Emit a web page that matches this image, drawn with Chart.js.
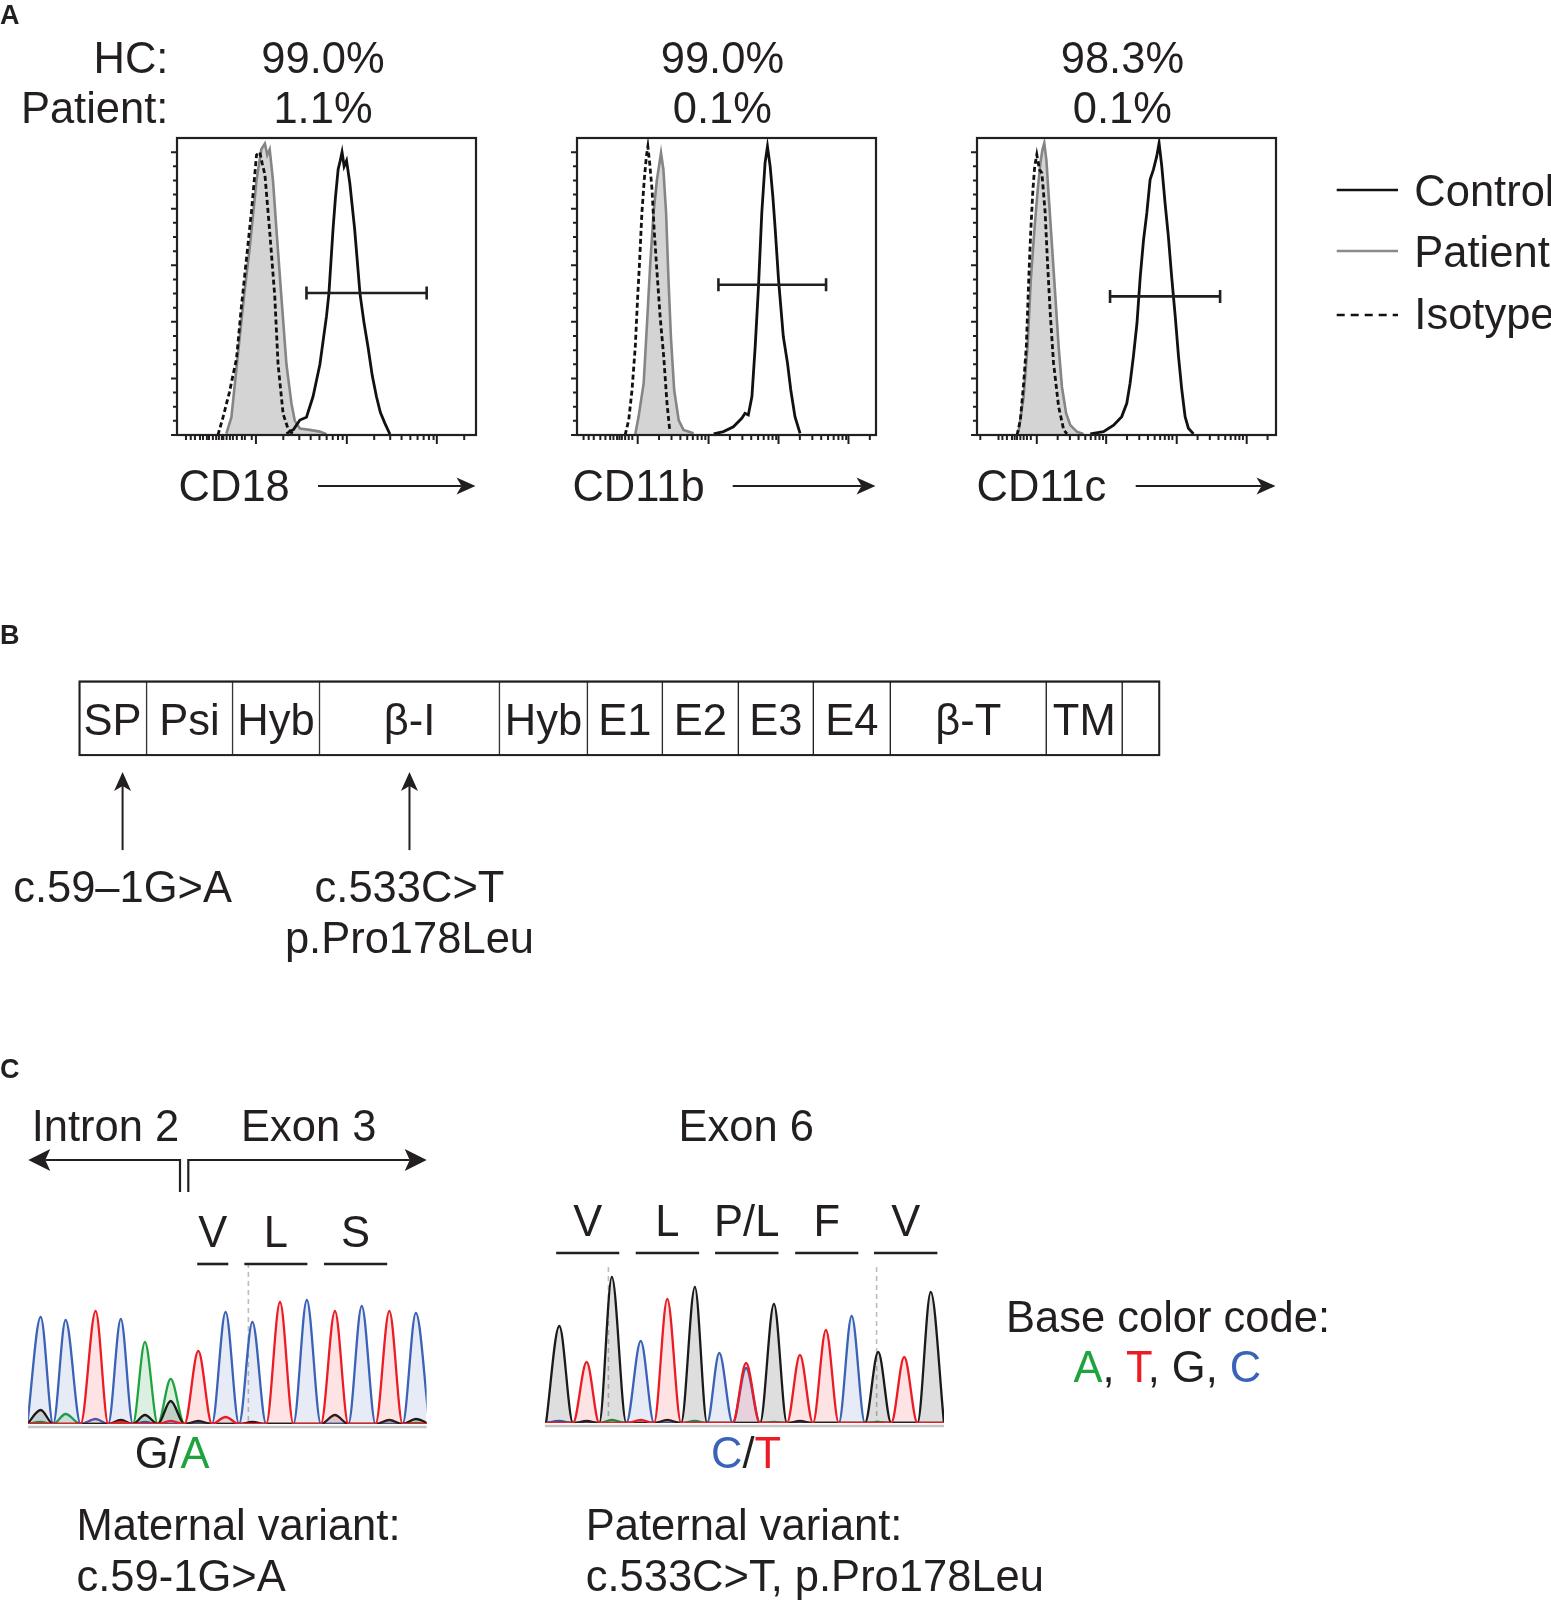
<!DOCTYPE html>
<html lang="en">
<head>
<meta charset="UTF-8">
<title>ITGB2 – expression and variants</title>
<script src="https://cdn.jsdelivr.net/npm/chart.js"></script>
<style>
    body {
        margin: 0;
        width: 1551px;
        height: 1600px;
        overflow: hidden;
        background: #fff;
        position: relative;
        font-family: "Liberation Sans", Arial, Helvetica, sans-serif;
        color: #231f20;
    }
    canvas, svg, .t { position: absolute; }
    .t { white-space: nowrap; }
</style>
</head>
<body>
<script>
    // ---------- Panel A: flow histograms (x = fluorescence, y = % of max) ----------
    var histTitles = ['CD18', 'CD11b', 'CD11c'];
    var hcPct = ['99.0%', '99.0%', '98.3%'];
    var patientPct = ['1.1%', '0.1%', '0.1%'];

    // CD18
    var ctlX1 = [36.6, 39.0, 41.1, 43.3, 45.5, 47.8, 50.0, 50.8, 52.2, 53.0, 53.9, 54.6, 55.2, 55.9, 56.7, 57.8, 59.4, 61.2, 62.5, 63.9, 65.3, 66.7, 68.0, 69.5, 71.2];
    var ctlY1 = [0.5, 2, 5.3, 6.3, 13.6, 25, 42, 50, 73, 84, 94, 97, 100, 95, 97, 89, 73, 50, 40, 31, 21, 13.6, 8, 4.2, 0.3];
    var patX1 = [16.5, 18.2, 21.0, 22.5, 24.3, 26.6, 28.2, 29.4, 30.2, 31.0, 32.1, 33.3, 34.9, 36.6, 38.3, 39.4, 41.1, 44.4, 47.8, 50.0];
    var patY1 = [0.5, 6.3, 35, 50, 66, 90, 101, 103, 99, 101, 90, 72, 49, 25, 11, 5, 2.3, 1.8, 1.2, 0.3];
    var isoX1 = [13.7, 15.4, 17.5, 19.9, 21.5, 23.2, 24.9, 26.6, 27.7, 28.5, 29.4, 31.0, 32.7, 33.8, 35.5, 37.2, 38.8];
    var isoY1 = [0, 6.3, 15, 27, 45, 62, 79, 99, 100, 96, 92, 72, 49, 25, 7.4, 2, 0.3];

    // CD11b
    var ctlX2 = [45.7, 49.0, 52.3, 55.1, 56.2, 57.3, 58.5, 59.6, 60.7, 61.8, 62.9, 63.7, 64.6, 65.5, 66.3, 67.4, 69.0, 70.4, 71.5, 72.9, 74.6];
    var ctlY2 = [0.4, 1.2, 2.9, 5.9, 7.7, 7.1, 13.6, 31.3, 52.5, 78.5, 96.2, 102, 95, 84.3, 72.6, 54.9, 34.8, 25.4, 15.9, 6.5, 0.6];
    var patX2 = [19.5, 20.6, 22.3, 23.6, 24.5, 25.6, 26.7, 28.1, 28.9, 29.8, 30.6, 31.4, 32.5, 34.0, 35.6, 39.0];
    var patY2 = [0.4, 6.5, 18.3, 43, 60.6, 78.5, 90, 99.7, 93.8, 78.5, 54.9, 34.8, 15.9, 5.3, 1.8, 0.6];
    var isoX2 = [16.1, 17.3, 18.4, 19.5, 20.3, 20.9, 21.7, 22.5, 23.2, 23.7, 24.3, 25.1, 25.8, 26.7, 27.8, 29.0, 30.1, 31.0];
    var isoY2 = [0, 5.3, 15.9, 31.3, 49, 60.6, 78.5, 90.3, 98.5, 102, 96.2, 86.7, 72.6, 58.4, 41.9, 27.7, 11.2, 1.8];

    // CD11c
    var ctlX3 = [37.9, 42.3, 45.7, 48.4, 50.1, 51.2, 52.3, 53.5, 54.6, 55.7, 56.8, 57.9, 59.0, 60.1, 60.9, 61.8, 62.9, 64.0, 65.1, 66.3, 67.4, 68.5, 69.6, 70.7, 72.4];
    var ctlY3 = [0.4, 1.2, 3.5, 6.5, 11.2, 18.3, 27.7, 39.5, 56, 69, 78.5, 90.3, 93.8, 98.5, 103.2, 95, 82, 70.2, 56, 41.9, 27.7, 15.9, 6.5, 2.4, 0.4];
    var patX3 = [13.9, 15.6, 16.9, 18.0, 19.2, 20.3, 21.2, 21.9, 22.5, 23.2, 24.0, 25.1, 26.2, 27.3, 28.4, 29.8, 31.2, 33.4, 35.6];
    var patY3 = [1.2, 13.6, 31.3, 54.9, 72.6, 86.7, 96.2, 100.9, 103.2, 97.3, 84.3, 66.7, 49, 31.3, 17.1, 7.7, 3.5, 1.2, 0.4];
    var isoX3 = [13.4, 14.5, 15.6, 16.5, 17.3, 18.0, 18.7, 19.3, 20.0, 20.9, 21.7, 22.8, 23.6, 24.5, 25.6, 27.3, 29.0, 30.1];
    var isoY3 = [0, 5.3, 18.3, 31.3, 54.9, 72.6, 86.7, 95, 99.1, 93.8, 92.6, 78.5, 60.6, 42.9, 25.4, 10, 1.8, 0.4];

    // positive gate [from, to, height]
    var gate1 = [43.3, 83.5, 50.2];
    var gate2 = [47.3, 83.3, 53.1];
    var gate3 = [44.5, 81.3, 49];

    // axis ticks: decades and the linear part below the first decade
    var xMajors1 = [26.4, 56.8, 86.9];
    var xLinear1 = [3, 4.6, 6, 7.7, 8.7, 10, 10.7, 12, 13.1, 14, 15, 15.5, 16.6, 17.7, 18.7, 20, 21.7, 22.7, 25];
    var xMajors2 = [20.3, 44, 67.4, 90.8];
    var xLinear2 = [2.2, 3.9, 5.6, 7.8, 9.5, 11.1, 12.2, 13.4, 14.2, 15, 16.1, 17.3, 18.5];
    var xMajors3 = [20, 43.2, 66.8, 90.2];
    var xLinear3 = [1.1, 7.2, 8.5, 10, 11.7, 12.6, 13.4, 14.5, 15.6, 16.7, 18];

    // ---------- Panel B: ITGB2 domains ----------
    var domainNames = ['SP', 'Psi', 'Hyb', 'β-I', 'Hyb', 'E1', 'E2', 'E3', 'E4', 'β-T', 'TM', ''];
    var domainWidths = [68, 86, 87, 180, 88, 75, 76, 75, 77, 156, 76, 38];
    var variantPos = [44, 331];
    var variantCdna = ['c.59–1G>A', 'c.533C>T'];
    var variantProt = ['', 'p.Pro178Leu'];

    // ---------- Panel C: Sanger traces (peak heights per base) ----------
    var leftPos = [0, 0.93, 2.05, 2.99, 3.89, 4.85, 5.88, 6.9, 7.9, 8.93, 9.93, 10.98, 11.98, 13.01, 14.0];
    var leftA = [2, 10, 0, 1, 82, 45, 1, 0, 0, 0, 0, 0, 0, 0, 1];
    var leftT = [0, 0, 113, 2, 0, 3, 73, 7, 0, 122, 0, 113, 0, 113, 0];
    var leftG = [14, 0, 0, 4, 9, 23, 3, 0, 2, 0, 0, 9, 0, 4, 5];
    var leftC = [107, 104, 5, 105, 2, 0, 0, 112, 102, 0, 124, 0, 118, 0, 111];
    var leftCodons = ['V', 'L', 'S'];
    var leftCodonSpans = [[5.84, 7.0], [7.6, 9.95], [10.57, 12.93]];
    var leftMarks = [7.75];

    var rightPos = [0, 1.03, 1.98, 3.07, 4.07, 5.11, 6.03, 7.04, 8.09, 9.07, 10.05, 11.02, 12.02, 13.0, 14.0];
    var rightA = [1, 0, 3, 0, 0, 2, 0, 0, 1, 0, 0, 0, 1, 0, 0];
    var rightT = [0, 61, 0, 3, 124, 0, 0, 60, 0, 68, 93, 0, 0, 66, 0];
    var rightG = [97, 2, 146, 0, 3, 136, 0, 0, 119, 2, 0, 0, 71, 0, 131];
    var rightC = [2, 0, 0, 82, 0, 0, 70, 55, 0, 0, 0, 107, 0, 0, 0];
    var rightCodons = ['V', 'L', 'P/L', 'F', 'V'];
    var rightCodonSpans = [[-0.12, 2.26], [2.88, 5.27], [5.87, 8.26], [8.89, 11.27], [11.86, 14.25]];
    var rightMarks = [1.85, 11.96];

    var baseColors = { A: '#1fa33f', T: '#ec1c24', G: '#1a1a1a', C: '#3a62b6' };
    var baseFills = { A: 'rgba(31,163,63,0.16)', T: 'rgba(236,28,36,0.12)', G: 'rgba(0,0,0,0.13)', C: 'rgba(58,98,182,0.13)' };
    var INK = '#231f20';
    var FS = 43.5;

    // ---------- helpers ----------
    function place(left, top, w, h) {
        var c = document.createElement('canvas');
        c.width = w; c.height = h;
        c.style.left = left + 'px'; c.style.top = top + 'px';
        c.style.width = w + 'px'; c.style.height = h + 'px';
        document.body.appendChild(c);
        return c;
    }

    // text placed by its baseline
    function txt(html, x, base, align, size, bold) {
        size = size || FS;
        var d = document.createElement('div');
        d.className = 't';
        d.innerHTML = html;
        d.style.fontSize = size + 'px';
        d.style.lineHeight = size + 'px';
        if (bold) d.style.fontWeight = 'bold';
        d.style.top = (base - 0.8465 * size) + 'px';
        d.style.left = x + 'px';
        if (align === 'center') d.style.transform = 'translateX(-50%)';
        if (align === 'right') d.style.transform = 'translateX(-100%)';
        document.body.appendChild(d);
        return d;
    }

    function pts(xs, ys) {
        return xs.map(function (x, i) { return { x: x, y: ys[i] }; });
    }

    function arrowHead(ctx, x, y, ux, uy, len, half) {
        var px = -uy, py = ux;
        ctx.beginPath();
        ctx.moveTo(x, y);
        ctx.lineTo(x - ux * len + px * half, y - uy * len + py * half);
        ctx.lineTo(x - ux * (len - 5), y - uy * (len - 5));
        ctx.lineTo(x - ux * len - px * half, y - uy * len - py * half);
        ctx.closePath();
        ctx.fill();
    }

    function logMinors(majors) {
        var d = majors[1] - majors[0], out = [];
        majors.forEach(function (m) {
            for (var k = 2; k <= 9; k++) {
                var v = m + Math.log10(k) * d;
                if (v < 100) out.push(v);
            }
        });
        return out;
    }

    var baseOpts = {
        responsive: false,
        animation: false,
        devicePixelRatio: 1,
        events: [],
        plugins: { legend: { display: false }, tooltip: { enabled: false } }
    };

    // ---------- histogram charts ----------
    var histFrame = {
        id: 'histFrame',
        afterDatasetsDraw: function (chart, args, o) {
            var ctx = chart.ctx, a = chart.chartArea, x = chart.scales.x, y = chart.scales.y;
            ctx.save();
            ctx.strokeStyle = INK;
            // gate
            ctx.lineWidth = 2.6;
            var gy = y.getPixelForValue(o.gate[2]);
            var g0 = x.getPixelForValue(o.gate[0]), g1 = x.getPixelForValue(o.gate[1]);
            ctx.beginPath();
            ctx.moveTo(g0, gy); ctx.lineTo(g1, gy);
            ctx.moveTo(g0, gy - 6.5); ctx.lineTo(g0, gy + 6.5);
            ctx.moveTo(g1, gy - 6.5); ctx.lineTo(g1, gy + 6.5);
            ctx.stroke();
            // frame
            ctx.lineWidth = 2.2;
            ctx.strokeRect(a.left, a.top, a.width, a.height);
            // ticks
            ctx.lineWidth = 2;
            ctx.beginPath();
            for (var v = 0; v <= 100; v += 5) {
                var py = y.getPixelForValue(v), len = v % 20 === 0 ? 6 : 4;
                ctx.moveTo(a.left, py); ctx.lineTo(a.left - len, py);
            }
            o.majors.forEach(function (m) {
                var px = x.getPixelForValue(m);
                ctx.moveTo(px, a.bottom); ctx.lineTo(px, a.bottom + 9);
            });
            o.linear.concat(logMinors(o.majors)).forEach(function (m) {
                var px = x.getPixelForValue(m);
                ctx.moveTo(px, a.bottom); ctx.lineTo(px, a.bottom + 5);
            });
            ctx.stroke();
            ctx.restore();
        }
    };

    var histData = [
        [ctlX1, ctlY1, isoX1, isoY1, patX1, patY1, gate1, xMajors1, xLinear1],
        [ctlX2, ctlY2, isoX2, isoY2, patX2, patY2, gate2, xMajors2, xLinear2],
        [ctlX3, ctlY3, isoX3, isoY3, patX3, patY3, gate3, xMajors3, xLinear3]
    ];
    var histLeft = [177, 577, 977];
    var histW = 299, histTop = 138, histH = 297;

    histData.forEach(function (h, i) {
        var c = place(histLeft[i] - 20, histTop - 10, histW + 40, histH + 30);
        new Chart(c, {
            type: 'line',
            data: {
                datasets: [
                    { label: 'Control', data: pts(h[0], h[1]), borderColor: '#111', borderWidth: 2.8, pointRadius: 0, fill: false, tension: 0 },
                    { label: 'Isotype', data: pts(h[2], h[3]), borderColor: '#111', borderWidth: 2.8, borderDash: [5, 3], pointRadius: 0, fill: false, tension: 0 },
                    { label: 'Patient', data: pts(h[4], h[5]), borderColor: '#858585', backgroundColor: '#d4d4d4', borderWidth: 2.6, pointRadius: 0, fill: 'origin', tension: 0 }
                ]
            },
            options: Object.assign({}, baseOpts, {
                layout: { padding: { left: 20, right: 20, top: 10, bottom: 20 } },
                scales: {
                    x: { type: 'linear', min: 0, max: 100, display: false },
                    y: { min: 0, max: 105, display: false }
                },
                plugins: Object.assign({}, baseOpts.plugins, {
                    histFrame: { gate: h[6], majors: h[7], linear: h[8] }
                })
            }),
            plugins: [histFrame]
        });
    });

    // ---------- domain chart ----------
    var domainLeft = 60, domainTop = 670;
    var domainTotal = domainWidths.reduce(function (s, w) { return s + w; }, 0);
    var variantArrows = {
        id: 'variantArrows',
        afterDraw: function (chart) {
            var ctx = chart.ctx, a = chart.chartArea, x = chart.scales.x;
            ctx.save();
            ctx.strokeStyle = INK; ctx.fillStyle = INK;
            ctx.lineWidth = 2;
            ctx.strokeRect(a.left + 1, a.top + 1, a.width - 2, a.height - 2);
            variantPos.forEach(function (p) {
                var px = x.getPixelForValue(p);
                var tip = a.bottom + 16, tail = a.bottom + 94;
                ctx.beginPath(); ctx.moveTo(px, tail); ctx.lineTo(px, tip + 12); ctx.stroke();
                arrowHead(ctx, px, tip, 0, -1, 19, 8.5);
            });
            ctx.restore();
        }
    };
    var domainChart = new Chart(place(domainLeft, domainTop, 1120, 200), {
        type: 'bar',
        data: {
            labels: ['ITGB2'],
            datasets: domainWidths.map(function (w, i) {
                return {
                    label: domainNames[i] || 'tail', data: [w],
                    backgroundColor: '#fff', borderColor: INK,
                    borderWidth: { top: 2, bottom: 2, left: 1, right: 1 }, borderSkipped: false,
                    barPercentage: 1, categoryPercentage: 1
                };
            })
        },
        options: Object.assign({}, baseOpts, {
            indexAxis: 'y',
            layout: { padding: { left: 18.6, right: 19.8, top: 10.6, bottom: 113.9 } },
            scales: {
                x: { stacked: true, min: 0, max: domainTotal, display: false },
                y: { stacked: true, display: false }
            }
        }),
        plugins: [variantArrows]
    });

    // ---------- Sanger traces ----------
    function trace(pos, h) {
        var out = [{ x: pos[0] - 0.5, y: 0 }];
        pos.forEach(function (p, i) {
            out.push({ x: p, y: h[i] });
            var next = i < pos.length - 1 ? (p + pos[i + 1]) / 2 : p + 0.5;
            out.push({ x: next, y: 0 });
        });
        return out;
    }

    var traceDeco = {
        id: 'traceDeco',
        beforeDatasetsDraw: function (chart, args, o) {
            var ctx = chart.ctx, a = chart.chartArea, x = chart.scales.x;
            ctx.save();
            ctx.strokeStyle = '#c4c4c4';
            ctx.lineWidth = 2.5;
            ctx.beginPath(); ctx.moveTo(a.left, a.bottom + 3); ctx.lineTo(a.right, a.bottom + 3); ctx.stroke();
            ctx.lineWidth = 1.6;
            ctx.setLineDash([5, 4]);
            ctx.strokeStyle = '#bdbdbd';
            o.marks.forEach(function (m) {
                var px = x.getPixelForValue(m);
                ctx.beginPath(); ctx.moveTo(px, a.top - o.markRise); ctx.lineTo(px, a.bottom); ctx.stroke();
            });
            ctx.setLineDash([]);
            ctx.strokeStyle = INK;
            ctx.lineWidth = 2.6;
            o.spans.forEach(function (s) {
                ctx.beginPath();
                ctx.moveTo(x.getPixelForValue(s[0]), a.top - o.barRise);
                ctx.lineTo(x.getPixelForValue(s[1]), a.top - o.barRise);
                ctx.stroke();
            });
            ctx.restore();
        }
    };

    function traceChart(left, top, w, h, pad, pos, ch, xmin, xmax, ymax, spans, marks, barRise, markRise) {
        var order = ['T', 'G', 'C', 'A'];
        return new Chart(place(left, top, w, h), {
            type: 'line',
            data: {
                datasets: order.map(function (b) {
                    return {
                        label: b, data: trace(pos, ch[b]),
                        borderColor: baseColors[b], backgroundColor: baseFills[b],
                        borderWidth: 2.3, pointRadius: 0, fill: 'origin',
                        cubicInterpolationMode: 'monotone'
                    };
                })
            },
            options: Object.assign({}, baseOpts, {
                layout: { padding: pad },
                scales: {
                    x: { type: 'linear', min: xmin, max: xmax, display: false },
                    y: { min: 0, max: ymax, display: false }
                },
                plugins: Object.assign({}, baseOpts.plugins, {
                    traceDeco: { spans: spans, marks: marks, barRise: barRise, markRise: markRise }
                })
            }),
            plugins: [traceDeco]
        });
    }

    var leftTrace = traceChart(10, 1230, 440, 210, { left: 18.1, right: 23.4, top: 64, bottom: 16 },
        leftPos, { A: leftA, T: leftT, G: leftG, C: leftC }, -0.47, 14.4, 130, leftCodonSpans, leftMarks, 30, 31);
    var rightTrace = traceChart(530, 1220, 430, 220, { left: 15, right: 16, top: 53, bottom: 17 },
        rightPos, { A: rightA, T: rightT, G: rightG, C: rightC }, -0.54, 14.5, 150, rightCodonSpans, rightMarks, 20, 6);

    // ---------- lines and arrows outside the charts ----------
    var NS = 'http://www.w3.org/2000/svg';
    var svg = document.createElementNS(NS, 'svg');
    svg.setAttribute('width', 1551); svg.setAttribute('height', 1600);
    svg.style.left = '0px'; svg.style.top = '0px';
    document.body.appendChild(svg);

    function sLine(x1, y1, x2, y2, w, color, dash) {
        var l = document.createElementNS(NS, 'line');
        l.setAttribute('x1', x1); l.setAttribute('y1', y1); l.setAttribute('x2', x2); l.setAttribute('y2', y2);
        l.setAttribute('stroke', color || INK); l.setAttribute('stroke-width', w);
        if (dash) l.setAttribute('stroke-dasharray', dash);
        svg.appendChild(l);
    }
    function sArrow(x1, y1, x2, y2, len, half, w) {
        var dx = x2 - x1, dy = y2 - y1, n = Math.hypot(dx, dy), ux = dx / n, uy = dy / n, px = -uy, py = ux;
        sLine(x1, y1, x2 - ux * (len - 5), y2 - uy * (len - 5), w);
        var p = document.createElementNS(NS, 'path');
        p.setAttribute('d', 'M' + x2 + ' ' + y2 +
            ' L' + (x2 - ux * len + px * half) + ' ' + (y2 - uy * len + py * half) +
            ' L' + (x2 - ux * (len - 5)) + ' ' + (y2 - uy * (len - 5)) +
            ' L' + (x2 - ux * len - px * half) + ' ' + (y2 - uy * len - py * half) + ' Z');
        p.setAttribute('fill', INK);
        svg.appendChild(p);
    }

    // panel A axis arrows
    sArrow(318, 486, 475.5, 486, 19, 8.5, 2.2);
    sArrow(732.7, 486, 875.5, 486, 19, 8.5, 2.2);
    sArrow(1135.7, 486, 1275.5, 486, 19, 8.5, 2.2);
    // legend keys
    sLine(1336.7, 190, 1398, 190, 2.4, '#111');
    sLine(1336.7, 251, 1398, 251, 2.6, '#8a8a8a');
    sLine(1336.7, 315, 1398, 315, 2.4, '#111', '8 6');
    // panel C intron / exon arrows
    sArrow(180, 1160, 28.3, 1160, 22, 11, 2.2);
    sArrow(188.3, 1160, 426.7, 1160, 22, 11, 2.2);
    sLine(180, 1159, 180, 1192, 2.2);
    sLine(188.3, 1159, 188.3, 1192, 2.2);

    // ---------- texts ----------
    txt('A', 0, 24.5, 'left', 27, true);
    txt('HC:', 168.4, 73.5, 'right');
    txt('Patient:', 168.4, 124, 'right');
    var pctCenter = [323, 722.4, 1122.4];
    var titleLeft = [178.6, 572.4, 976.5];
    histTitles.forEach(function (t, i) {
        txt(hcPct[i], pctCenter[i], 73.5, 'center');
        txt(patientPct[i], pctCenter[i], 124, 'center');
        txt(t, titleLeft[i], 502, 'left');
    });
    txt('Control', 1414.3, 207, 'left');
    txt('Patient', 1414.3, 268, 'left');
    txt('Isotype', 1414.3, 329.5, 'left');

    txt('B', 0, 645, 'left', 27, true);
    var dx = domainChart.scales.x, cum = 0;
    domainWidths.forEach(function (w, i) {
        if (domainNames[i]) txt(domainNames[i], domainLeft + dx.getPixelForValue(cum + w / 2), 735.5, 'center');
        cum += w;
    });
    variantPos.forEach(function (p, i) {
        var px = domainLeft + dx.getPixelForValue(p);
        txt(variantCdna[i], px, 903, 'center');
        if (variantProt[i]) txt(variantProt[i], px, 954, 'center');
    });

    txt('C', 0, 1078.5, 'left', 27, true);
    txt('Intron 2', 31.7, 1142.3, 'left');
    txt('Exon 3', 241, 1142.3, 'left');
    txt('Exon 6', 678.6, 1142.3, 'left');
    leftCodons.forEach(function (aa, i) {
        var s = leftCodonSpans[i];
        txt(aa, 10 + leftTrace.scales.x.getPixelForValue((s[0] + s[1]) / 2), 1248, 'center');
    });
    rightCodons.forEach(function (aa, i) {
        var s = rightCodonSpans[i];
        txt(aa, 530 + rightTrace.scales.x.getPixelForValue((s[0] + s[1]) / 2), 1237, 'center');
    });
    txt('G/<span style="color:' + baseColors.A + '">A</span>', 134.7, 1469, 'left');
    txt('<span style="color:' + baseColors.C + '">C</span>/<span style="color:' + baseColors.T + '">T</span>', 711, 1469, 'left');
    txt('Maternal variant:', 76.5, 1540.5, 'left');
    txt('c.59-1G&gt;A', 76.5, 1592, 'left');
    txt('Paternal variant:', 585.7, 1540.5, 'left');
    txt('c.533C&gt;T, p.Pro178Leu', 585.7, 1592, 'left');
    txt('Base color code:', 1006, 1332.5, 'left');
    txt('<span style="color:' + baseColors.A + '">A</span>, <span style="color:' + baseColors.T + '">T</span>, G, <span style="color:' + baseColors.C + '">C</span>', 1073.5, 1383, 'left');
</script>
</body>
</html>
